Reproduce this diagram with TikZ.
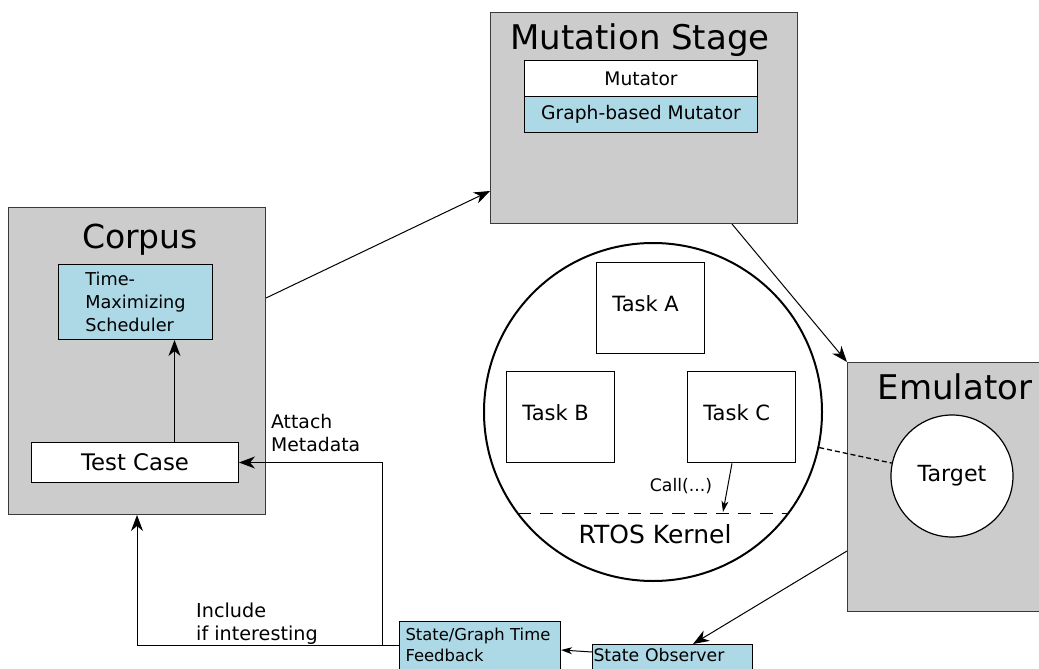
\documentclass[tikz,border=0pt]{standalone}
\usepackage{fontspec}
\setmainfont{DejaVu Sans}
\usetikzlibrary{arrows.meta,calc}
\definecolor{boxgray}{HTML}{CCCCCC}
\definecolor{lblue}{HTML}{ADD8E6}
\definecolor{edgegray}{HTML}{3A3A3A}
\begin{document}
\begin{tikzpicture}[x=1pt,y=-1pt,
  stage/.style={draw=edgegray, line width=1pt, fill=boxgray, inner sep=0pt, anchor=north west},
  titletext/.style={inner sep=0pt, anchor=base, font=\fontsize{34}{40}\selectfont},
  wbox/.style={draw=black, line width=1pt, fill=white, inner sep=0pt, anchor=north west},
  bbox/.style={draw=black, line width=1pt, fill=lblue, inner sep=0pt, anchor=north west},
  taskbox/.style={draw=black, line width=1.3pt, fill=white, minimum width=108, minimum height=91, inner sep=0pt, anchor=north west},
  tasklbl/.style={font=\fontsize{21}{25}\selectfont, inner sep=0pt, xshift=-5pt, yshift=4pt},
  lbl/.style={inner sep=0pt, font=\fontsize{18.8}{23}\selectfont},
  arr/.style={draw=black, line width=1pt, -{Stealth[length=16pt, width=12pt, inset=5pt]}},
  sarr/.style={draw=black, line width=1pt, -{Stealth[length=11pt, width=7pt, inset=3pt]}},
  conn/.style={draw=black, line width=1pt}
]
\useasboundingbox (0,0) rectangle (1039,669);

% Corpus
\node[stage, minimum width=257, minimum height=307] (corpus) at (8,207) {};
\node[titletext, font=\fontsize{33}{38}\selectfont] (corpust) at (140,248) {Corpus};
\node[bbox, minimum width=154, minimum height=75, align=left, font=\fontsize{17.7}{23}\selectfont] (tms) at (58,264) {Time-\\Maximizing\\Scheduler};
\node[wbox, minimum width=207, minimum height=40, font=\fontsize{22.8}{26}\selectfont] (tcase) at (31,442) {Test Case};

% Mutation stage
\node[stage, minimum width=307, minimum height=211] (mut) at (490,12) {};
\node[titletext] (mutt) at (640,50) {Mutation Stage};
\node[wbox, minimum width=233, minimum height=36, font=\fontsize{18.7}{22}\selectfont] (mutator) at (524,60) {Mutator};
\node[bbox, minimum width=233, minimum height=36, font=\fontsize{18.7}{22}\selectfont] (gbm) at (524,96) {Graph-based Mutator};

% Emulator
\node[stage, minimum width=200, minimum height=249] (emu) at (847,362) {};
\node[titletext] (emut) at (955,399) {Emulator};
\node[circle, draw=black, line width=1.2pt, fill=white, minimum size=122, inner sep=0pt, font=\fontsize{22.2}{26}\selectfont] (target) at (952,476) {Target};

% RTOS circle
\node[circle, draw=black, line width=2pt, fill=white, minimum size=338, inner sep=0pt] (rtos) at (653,412) {};
\node[taskbox, label={[tasklbl]center:Task A}] (ta) at (596,262) {};
\node[taskbox, label={[tasklbl]center:Task B}] (tb) at (506,371) {};
\node[taskbox, label={[tasklbl]center:Task C}] (tc) at (687,371) {};
\coordinate (kl) at ($(rtos.center)+(-135.5,101)$);
\coordinate (kr) at ($(rtos.center)+(135.5,101)$);
\draw[line width=1pt, dash pattern=on 13pt off 9pt] (kl) -- (kr);
\node[anchor=base, inner sep=0pt, font=\fontsize{25}{29}\selectfont] (kern) at (655,543) {RTOS Kernel};
\coordinate (callstart) at ($(tc.south west)+(45,0)$);
\coordinate (callend) at (723,512);
\draw[sarr] (callstart) -- (callend);
\node[inner sep=0pt, font=\fontsize{17.3}{20}\selectfont] (calllbl) at (681,486) {Call(...)};
\draw[line width=1.3pt, dash pattern=on 5pt off 3pt] (rtos) -- (target);

% Feedback boxes
\node[bbox, inner xsep=1pt, inner ysep=4pt, text width=158pt, align=left, text depth=30pt, font=\fontsize{17.3}{20}\selectfont] (obs) at (592,644) {State Observer};
\node[bbox, inner xsep=6pt, inner ysep=7pt, text width=149pt, align=left, text depth=30pt, font=\fontsize{16.4}{20.5}\selectfont] (fb) at (399,621) {State/Graph Time\\Feedback};

% Connectors
\draw[arr] ($(corpus.north east)+(0,91)$) -- ($(mut.north west)+(0,179)$);
\draw[arr] ($(mut.south west)+(242,0)$) -- (emu.north west);
\draw[arr] ($(emu.north west)+(0,189)$) -- ($(obs.north west)+(101,0)$);
\draw[sarr] ($(obs.north west)+(0,8)$) -- ($(fb.north east)+(0,29)$);
\coordinate (fbl) at ($(fb.north west)+(0,24.5)$);
\coordinate (j) at ($(fb.north west)+(-16.5,24.5)$);
\draw[conn] (fbl) -- (j);
\draw[arr] (j) |- (tcase.east);
\draw[arr] (j) -| (corpus.south);
\coordinate (up1) at ($(tcase.north)+(39.5,0)$);
\draw[arr] (up1) -- (up1 |- tms.south);

% Labels
\node[lbl, anchor=north west, align=left] (attach) at (271,414) {Attach\\Metadata};
\node[lbl, anchor=north west, align=left, font=\fontsize{19.2}{23}\selectfont] (incl) at (196,603) {Include\\if interesting};
\end{tikzpicture}
\end{document}
